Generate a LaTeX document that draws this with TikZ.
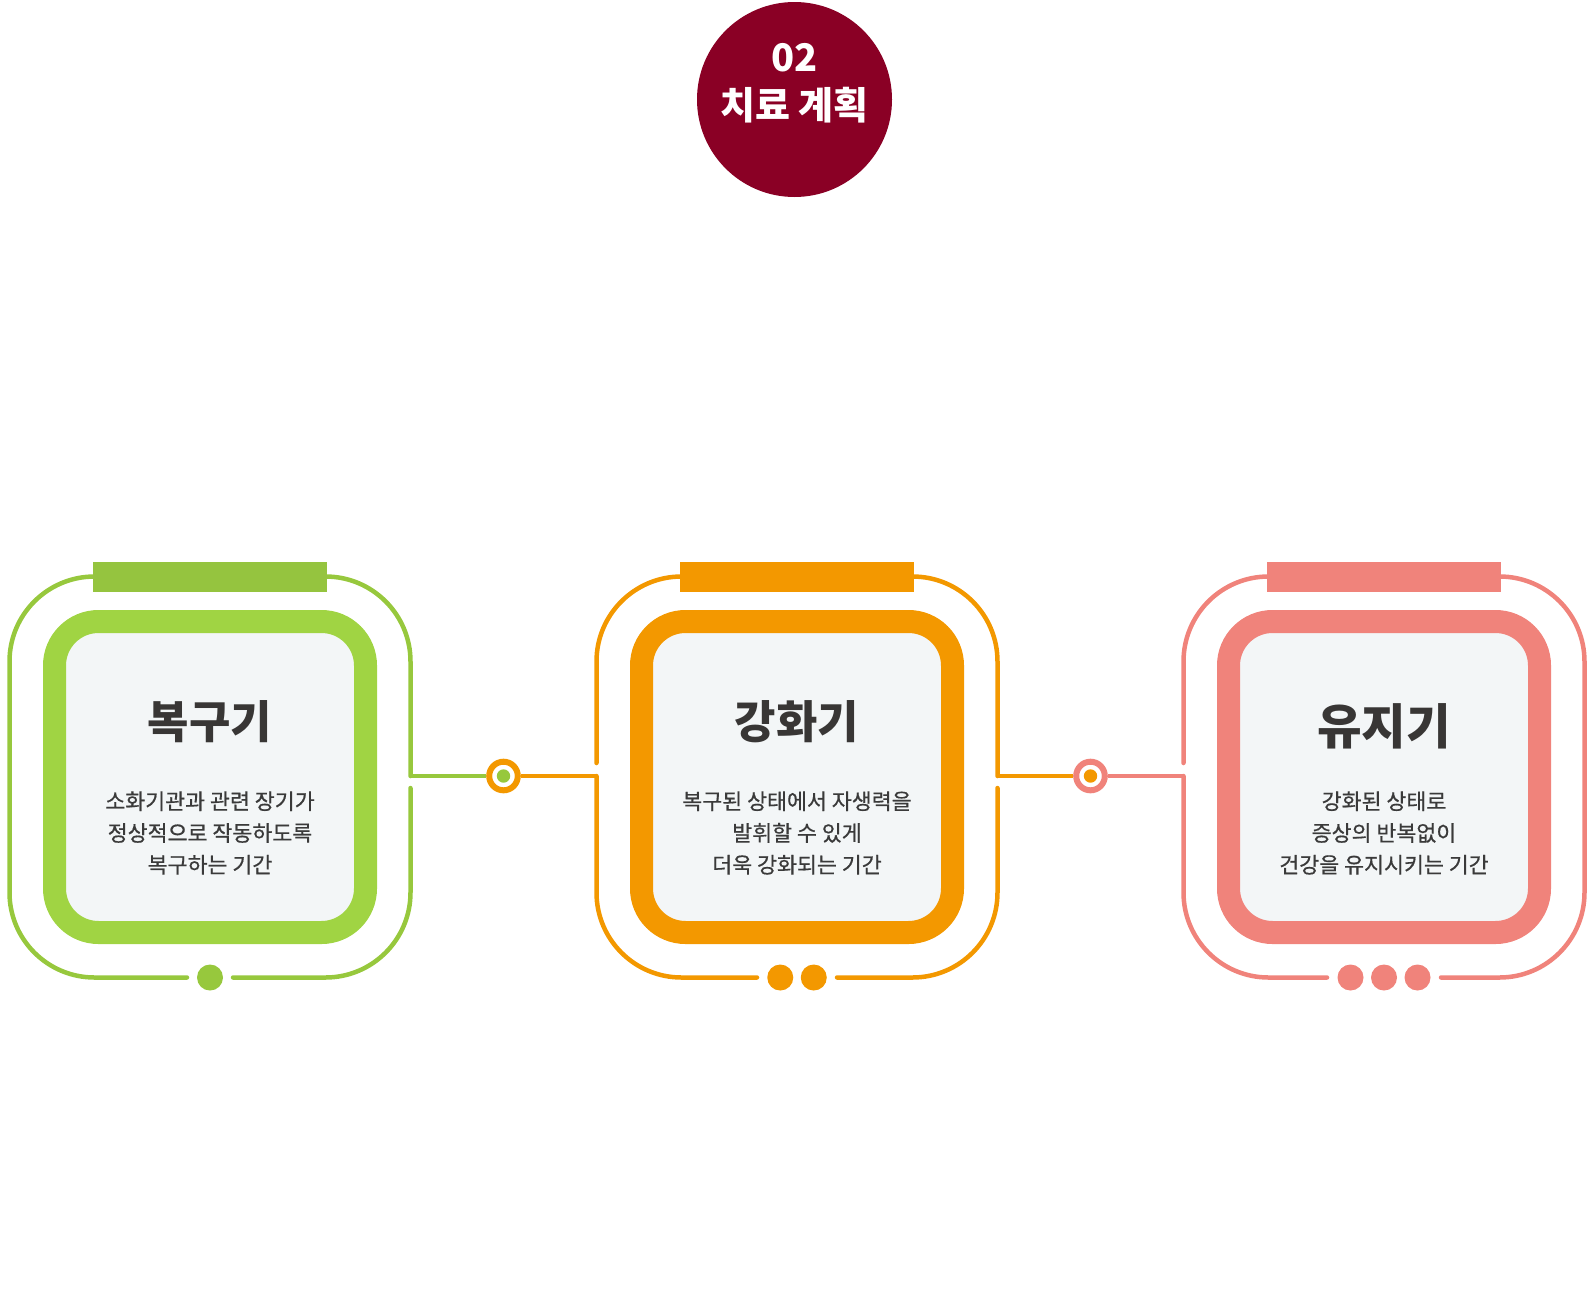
\documentclass[tikz,border=0pt]{standalone}
\usepackage{fontspec}
\setmainfont{Noto Sans CJK KR}
\newfontfamily\descfont{Noto Sans CJK KR}[FakeBold=0.6]
\usetikzlibrary{positioning, calc}
\definecolor{linegreen}{HTML}{97C83D}
\definecolor{bargreen}{HTML}{95C43F}
\definecolor{panelgreen}{HTML}{A0D443}
\definecolor{stageorange}{HTML}{F39800}
\definecolor{stagesalmon}{HTML}{F0837B}
\definecolor{panelfill}{HTML}{F3F6F7}
\definecolor{headred}{HTML}{8A0025}
\definecolor{titlegray}{HTML}{383635}
\definecolor{descgray}{HTML}{3A3A3A}

\begin{document}
\begin{tikzpicture}[x=1pt, y=-1pt,
        frame/.style    = {line width=4.5pt, line cap=round, rounded corners=85pt},
        link/.style     = {line width=4.5pt},
        outer/.style    = {minimum size=401pt, inner sep=0pt, outer sep=0pt},
        bar/.style      = {minimum width=234pt, minimum height=30pt, inner sep=0pt},
        panel/.style    = {draw, line width=23pt, rounded corners=44pt, fill=panelfill, minimum size=311pt, inner sep=0pt},
        stage/.style    = {font=\fontsize{45}{52}\selectfont\bfseries, text=titlegray},
        desc/.style     = {font=\fontsize{21.7}{31.8}\descfont, text=descgray, align=center},
        joint/.style    = {circle, draw, line width=6pt, fill=white, minimum size=28.6pt, inner sep=0pt},
        head/.style     = {circle, fill=headred, minimum size=195pt, inner sep=0pt},
        headtext/.style = {font=\fontsize{38}{48}\selectfont\bfseries, text=white, align=center}]

    \useasboundingbox (0,0) rectangle (1591,1294);

    % heading disc
    \node[head] (head) at (794.5,99.5) {};
    \node[headtext] (headtxt) at ($(head.center)+(0,-16)$) {02\\치료 계획};

    % outer frames of the three stages (invisible, only for placing)
    \node[outer] (f1) at (210,777) {};
    \node[outer, right=186pt of f1] (f2) {};
    \node[outer, right=186pt of f2] (f3) {};

    % rounded outlines, broken for the links and the dots
    \draw[frame, linegreen] ($(f1.south)+(-23,0)$) -| (f1.north west) -| ($(f1.east)+(0,-1)$);
    \draw[frame, linegreen] ($(f1.east)+(0,11)$) |- ($(f1.south)+(23,0)$);

    \draw[frame, stageorange] ($(f2.west)+(0,-14)$) |- (f2.north) -| ($(f2.east)+(0,-1)$);
    \draw[frame, stageorange] ($(f2.west)+(0,-1)$) |- ($(f2.south)+(-40,0)$);
    \draw[frame, stageorange] ($(f2.east)+(0,11)$) |- ($(f2.south)+(40,0)$);

    \draw[frame, stagesalmon] ($(f3.west)+(0,-14)$) |- (f3.north east) |- ($(f3.south)+(57,0)$);
    \draw[frame, stagesalmon] ($(f3.west)+(0,-1)$) |- ($(f3.south)+(-57,0)$);

    % bars on top
    \node[bar, fill=bargreen] (b1) at (f1.north) {};
    \node[bar, fill=stageorange] (b2) at (f2.north) {};
    \node[bar, fill=stagesalmon] (b3) at (f3.north) {};

    % thick inner panels
    \node[panel, draw=panelgreen] (k1) at (f1.center) {};
    \node[panel, draw=stageorange] (k2) at (f2.center) {};
    \node[panel, draw=stagesalmon] (k3) at (f3.center) {};

    % stage names and descriptions
    \node[stage] (s1) at ($(k1.center)+(0,-55)$) {복구기};
    \node[desc] (d1) at ($(k1.center)+(0,56)$) {소화기관과 관련 장기가\\정상적으로 작동하도록\\복구하는 기간};

    \node[stage] (s2) at ($(k2.center)+(0,-55)$) {강화기};
    \node[desc] (d2) at ($(k2.center)+(0,56)$) {복구된 상태에서 자생력을\\발휘할 수 있게\\더욱 강화되는 기간};

    \node[stage, font=\fontsize{48.5}{56}\selectfont\bfseries] (s3) at ($(k3.center)+(0,-51)$) {유지기};
    \node[desc] (d3) at ($(k3.center)+(0,56)$) {강화된 상태로\\증상의 반복없이\\건강을 유지시키는 기간};

    % joints between the stages
    \node[joint, draw=stageorange] (j1) at ($(f1.east)!0.5!(f2.west)+(0,-1)$) {};
    \node[joint, draw=stagesalmon] (j2) at ($(f2.east)!0.5!(f3.west)+(0,-1)$) {};
    \fill[linegreen] (j1.center) circle (6.7);
    \fill[stageorange] (j2.center) circle (6.7);

    % links
    \draw[link, linegreen] ($(f1.east)+(0,-1)$) -- (j1.west);
    \draw[link, stageorange] (j1.east) -- ($(f2.west)+(0,-1)$);
    \draw[link, stageorange] ($(f2.east)+(0,-1)$) -- (j2.west);
    \draw[link, stagesalmon] (j2.east) -- ($(f3.west)+(0,-1)$);

    % dots under each stage
    \foreach \i/\c in {1/linegreen, 2/stageorange, 3/stagesalmon}
        \foreach \k in {1,...,\i}
            \fill[\c] ($(f\i.south)+({(\k-(\i+1)/2)*33.5},0)$) circle (13);

\end{tikzpicture}
\end{document}
